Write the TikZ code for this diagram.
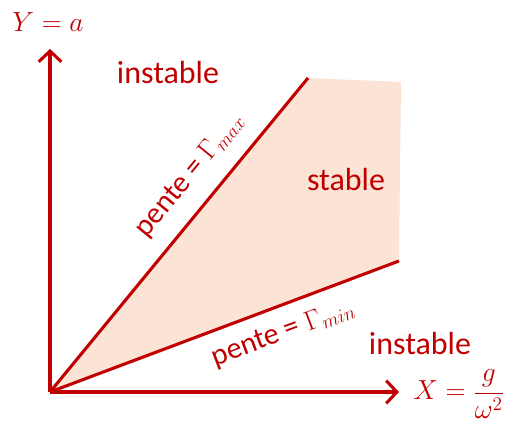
\documentclass[tikz,border=0pt]{standalone}
\usepackage{fontspec}
\setmainfont{Carlito}
\usetikzlibrary{arrows.meta}
\definecolor{dred}{HTML}{C00000}
\definecolor{peach}{HTML}{FBE3D6}
\begin{document}
\begin{tikzpicture}[x=0.75pt,y=0.75pt,
  axis/.style={draw=dred,line width=2.3pt,-{Straight Barb[length=8pt,width=17pt,line width=2.3pt]}},
  bound/.style={draw=dred,line width=2.3pt},
  lbl/.style={text=dred,font=\fontsize{24}{28}\selectfont,inner sep=0pt},
  plbl/.style={text=dred,font=\fontsize{22.5}{26}\selectfont,inner sep=0pt},
  mlbl/.style={text=dred,font=\fontsize{22}{26}\selectfont,inner sep=0pt}]
\useasboundingbox (0,0) rectangle (506,421);
\coordinate (O) at (50,29);
\coordinate (Ytop) at (50,372);
\coordinate (Xend) at (399,29);
\coordinate (Umax) at (308,343);
\coordinate (Cmax) at (401,339);
\coordinate (Lmin) at (399,160);
\fill[peach] (O) -- (Umax) -- (Cmax) -- (Lmin) -- cycle;
\draw[bound] (O) -- (Umax);
\draw[bound] (O) -- (Lmin);
\draw[axis] (O) -- (Ytop);
\draw[axis] (O) -- (Xend);
\node[mlbl] (ylab) at (48,399) {$Y=a$};
\node[mlbl,anchor=west] (xlab) at (413,27) {$X=\displaystyle\frac{g}{\omega^2}$};
\node[lbl] (inst1) at (168,348) {instable};
\node[lbl] (inst2) at (420,77) {instable};
\node[lbl] (stab) at (346,241) {stable};
\node[plbl,rotate=50.6] (pmax) at (190,246) {pente = $\Gamma_{max}$};
\node[plbl,rotate=20.6] (pmin) at (283,88) {pente = $\Gamma_{min}$};
\end{tikzpicture}
\end{document}
